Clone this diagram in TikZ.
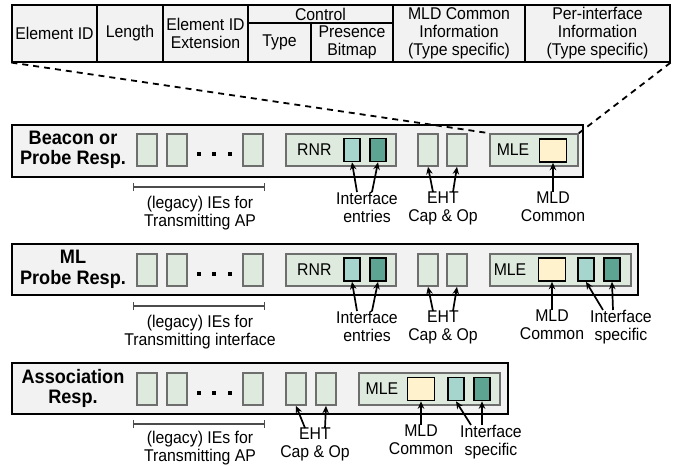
\documentclass[tikz,border=0pt]{standalone}
\usepackage{fontspec}
\setmainfont{Liberation Sans}[FakeStretch=0.93]
\usetikzlibrary{arrows.meta}
\definecolor{tabgray}{HTML}{F2F2F2}
\definecolor{iegreen}{HTML}{DFEADE}
\definecolor{iegray}{HTML}{6E6E6E}
\definecolor{ltteal}{HTML}{A6D5CE}
\definecolor{dkteal}{HTML}{5EA493}
\definecolor{mldyel}{HTML}{FFF2CC}
\tikzset{
  txt/.style={align=center,inner sep=0pt,font=\fontsize{17}{17.5}\selectfont},
  rowlbl/.style={align=center,inner sep=0pt,font=\fontsize{19.5}{20.5}\selectfont\bfseries},
  cell/.style={draw=black,line width=1.2pt,fill=tabgray,inner sep=0pt,align=center,font=\fontsize{17}{18}\selectfont},
  outer/.style={draw=black,line width=2pt,fill=tabgray,inner sep=0pt},
  ie/.style={draw=iegray,fill=iegreen,line width=1.6pt,inner sep=0pt,minimum width=20pt,minimum height=32pt},
  cont/.style={draw=iegray,fill=iegreen,line width=1.6pt,inner sep=0pt,minimum height=32pt},
  lt/.style={draw=black,fill=ltteal,line width=1.6pt,inner sep=0pt,minimum width=16pt,minimum height=23pt},
  dk/.style={draw=black,fill=dkteal,line width=1.6pt,inner sep=0pt,minimum width=16pt,minimum height=23pt},
  yl/.style={draw=black,fill=mldyel,line width=1.6pt,inner sep=0pt,minimum width=27pt,minimum height=23pt},
  arr/.style={-{Stealth[length=7.5pt,width=6.5pt]},line width=1.7pt},
  brk/.style={draw=black!70,line width=1.4pt,{Bar[width=8pt]}-{Bar[width=8pt]}},
  dsh/.style={line width=1.8pt,dash pattern=on 6pt off 5pt},
  dotsq/.style={fill=black,inner sep=0pt,minimum size=4.5pt}
}
\begin{document}
\begin{tikzpicture}[x=1pt,y=-1pt]
\useasboundingbox (0,0) rectangle (683,466);
% ---- top table ----
\node[cell,minimum width=85pt,minimum height=57pt] (c1) at (54.5,33.5) {Element ID};
\node[cell,minimum width=66pt,minimum height=57pt] (c2) at (130,33.5) {Length};
\node[cell,minimum width=85pt,minimum height=57pt] (c3) at (205.5,33.5) {Element ID\\Extension};
\node[cell,minimum width=145pt,minimum height=18pt] (c4) at (320.5,14) {Control};
\node[cell,minimum width=63pt,minimum height=39pt] (c5) at (279.5,42.5) {Type};
\node[cell,minimum width=82pt,minimum height=39pt] (c6) at (352,42.5) {Presence\\Bitmap};
\node[cell,minimum width=132pt,minimum height=57pt] (c7) at (459,33.5) {MLD Common\\Information\\(Type specific)};
\node[cell,minimum width=145pt,minimum height=57pt] (c8) at (597.5,33.5) {Per-interface\\Information\\(Type specific)};

% ---- row 1: Beacon ----
\node[outer,minimum width=571pt,minimum height=52pt] (r1) at (297.5,151) {};
\node[rowlbl] (l1) at (73,150) {Beacon or\\Probe Resp.};
\node[ie] (a1) at (147,150) {};
\node[ie] (a2) at (177,150) {};
\node[ie] (a3) at (253,150) {};
\node[dotsq] (d1a) at (199,154) {};
\node[dotsq] (d1b) at (214,154) {};
\node[dotsq] (d1c) at (230,154) {};
\node[cont,minimum width=110pt] (rnr1) at (341,150) {};
\node[txt,anchor=west] (rnrt1) at (297,150) {RNR};
\node[lt] (rlt1) at (352,150) {};
\node[dk] (rdk1) at (378,150) {};
\node[ie] (e1a) at (428,150) {};
\node[ie] (e1b) at (457,150) {};
\node[cont,minimum width=88pt] (mle1) at (534,150) {};
\node[txt] (mlet1) at (513,150) {MLE};
\node[yl] (y1) at (553,150.5) {};
\coordinate (b1l) at (133,187);
\coordinate (b1r) at (265,187);
\draw[brk] (b1l) -- (b1r);
\node[txt,anchor=north] (leg1) at (200,196) {(legacy) IEs for\\Transmitting AP};
\node[txt,anchor=north] (ie1) at (367,192) {Interface\\entries};
\node[txt,anchor=north] (eht1) at (443,192) {EHT\\Cap \& Op};
\node[txt,anchor=north] (mld1) at (553,192) {MLD\\Common};
\draw[arr] ([xshift=-10pt]ie1.north) -- (rlt1.south);
\draw[arr] ([xshift=5pt]ie1.north) -- (rdk1.south);
\draw[arr] ([xshift=-10pt]eht1.north) -- (e1a.south);
\draw[arr] ([xshift=10pt]eht1.north) -- (e1b.south);
\draw[arr] (mld1.north) -- (y1.south);

% ---- row 2: ML Probe ----
\node[outer,minimum width=626pt,minimum height=51pt] (r2) at (325,269.5) {};
\node[rowlbl] (l2) at (73,269.5) {ML\\Probe Resp.};
\node[ie] (a4) at (147,270) {};
\node[ie] (a5) at (177,270) {};
\node[ie] (a6) at (253,270) {};
\node[dotsq] (d2a) at (199,274) {};
\node[dotsq] (d2b) at (214,274) {};
\node[dotsq] (d2c) at (230,274) {};
\node[cont,minimum width=110pt] (rnr2) at (341,270) {};
\node[txt,anchor=west] (rnrt2) at (297,270) {RNR};
\node[lt] (rlt2) at (352,269.5) {};
\node[dk] (rdk2) at (378,269.5) {};
\node[ie] (e2a) at (428,270) {};
\node[ie] (e2b) at (457,270) {};
\node[cont,minimum width=141pt] (mle2) at (560.5,270) {};
\node[txt] (mlet2) at (510,270) {MLE};
\node[yl] (y2) at (552,269.5) {};
\node[lt] (mlt2) at (586,269.5) {};
\node[dk] (mdk2) at (612,269.5) {};
\coordinate (b2l) at (133,306);
\coordinate (b2r) at (265,306);
\draw[brk] (b2l) -- (b2r);
\node[txt,anchor=north] (leg2) at (200,315) {(legacy) IEs for\\Transmitting interface};
\node[txt,anchor=north] (ie2) at (367,311) {Interface\\entries};
\node[txt,anchor=north] (eht2) at (443,311) {EHT\\Cap \& Op};
\node[txt,anchor=north] (mld2) at (552,310) {MLD\\Common};
\node[txt,anchor=north] (is2) at (621,310) {Interface\\specific};
\draw[arr] ([xshift=-10pt]ie2.north) -- (rlt2.south);
\draw[arr] ([xshift=5pt]ie2.north) -- (rdk2.south);
\draw[arr] ([xshift=-10pt]eht2.north) -- (e2a.south);
\draw[arr] ([xshift=10pt]eht2.north) -- (e2b.south);
\draw[arr] (mld2.north) -- (y2.south);
\draw[arr] ([xshift=-18pt]is2.north) -- (mlt2.south);
\draw[arr] ([xshift=-8pt]is2.north) -- (mdk2.south);

% ---- row 3: Association ----
\node[outer,minimum width=496pt,minimum height=51pt] (r3) at (260,388.5) {};
\node[rowlbl] (l3) at (73,388.5) {Association\\Resp.};
\node[ie] (a7) at (147,389) {};
\node[ie] (a8) at (177,389) {};
\node[ie] (a9) at (253,389) {};
\node[dotsq] (d3a) at (199,393) {};
\node[dotsq] (d3b) at (214,393) {};
\node[dotsq] (d3c) at (230,393) {};
\node[ie] (e3a) at (296,389) {};
\node[ie] (e3b) at (326,389) {};
\node[cont,minimum width=141pt] (mle3) at (429.5,389) {};
\node[txt] (mlet3) at (382,389) {MLE};
\node[yl] (y3) at (421,389) {};
\node[lt] (mlt3) at (456,389) {};
\node[dk] (mdk3) at (482,389) {};
\coordinate (b3l) at (133,424);
\coordinate (b3r) at (265,424);
\draw[brk] (b3l) -- (b3r);
\node[txt,anchor=north] (leg3) at (200,431) {(legacy) IEs for\\Transmitting AP};
\node[txt,anchor=north] (eht3) at (315,428) {EHT\\Cap \& Op};
\node[txt,anchor=north] (mld3) at (421,425) {MLD\\Common};
\node[txt,anchor=north] (is3) at (491,425) {Interface\\specific};
\draw[arr] ([xshift=-10pt]eht3.north) -- (e3a.south);
\draw[arr] ([xshift=10pt]eht3.north) -- (e3b.south);
\draw[arr] (mld3.north) -- (y3.south);
\draw[arr] ([xshift=-20pt]is3.north) -- (mlt3.south);
\draw[arr] ([xshift=-9pt]is3.north) -- (mdk3.south);

% ---- dashed zoom lines ----
\draw[dsh] (c1.south west) -- (mle1.north west);
\draw[dsh] (c8.south east) -- (mle1.north east);
\end{tikzpicture}
\end{document}
